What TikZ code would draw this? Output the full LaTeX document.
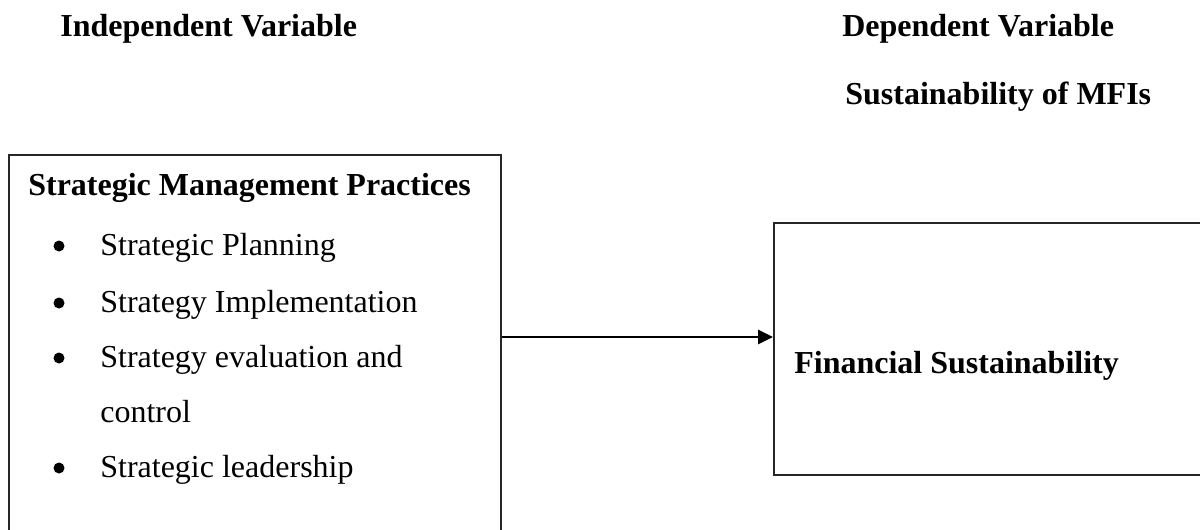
\documentclass[tikz,border=0pt]{standalone}
\usepackage{fontspec}
\setmainfont{Liberation Serif}
\usetikzlibrary{arrows.meta,positioning}
\tikzset{
  hdr/.style={font=\fontsize{19.2}{23}\selectfont\bfseries, anchor=base west, inner sep=0pt},
  itm/.style={font=\fontsize{19.2}{23}\selectfont, anchor=base west, inner sep=0pt},
  box/.style={draw=black!85, line width=1.2pt, anchor=north west, inner sep=0pt},
  dot/.style={circle, fill=black, inner sep=0pt, minimum size=6.6pt},
  link/.style={line width=1.6pt, -{Triangle[length=9pt,width=8.4pt]}}
}

\begin{document}
\begin{tikzpicture}[x=0.6pt,y=-0.6pt]
			\useasboundingbox (0,0) rectangle (1200,529);
			\clip (0,0) rectangle (1200,529);
			% headings
			\node[hdr] (indep) at (60,36) {Independent Variable};
			\node[hdr] (dep) at (842,36) {Dependent Variable};
			\node[hdr] (sust) at (845,104) {Sustainability of MFIs};
			% boxes
			\node[box, minimum width=295.2pt, minimum height=243.6pt] (smp) at (8,154) {};
			\node[box, minimum width=300pt, minimum height=151.2pt] (fin) at (773,222) {};
			\node[hdr] (smptitle) at (28,195) {Strategic Management Practices};
			\node[hdr] (fintitle) at (794,373) {Financial Sustainability};
			% bullet list
			\foreach \y/\t [count=\i] in {255/Strategic Planning, 312/Strategy Implementation, 367/Strategy evaluation and, 477/Strategic leadership}{
				\node[dot] (b\i) at (59,\y-9) {};
				\node[itm] (t\i) at (100,\y) {\t};
			}
			\node[itm] (t3b) at (100,422) {control};
			% connector
			\coordinate (ya) at (0,337);
			\draw[link] (smp.east |- ya) -- (fin.west |- ya);
\end{tikzpicture}
\end{document}
